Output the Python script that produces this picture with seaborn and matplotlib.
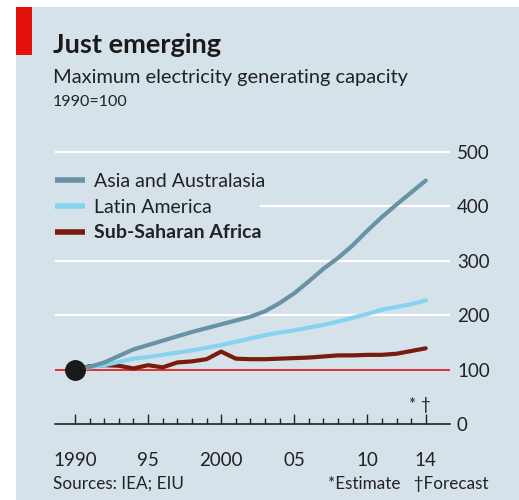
import numpy as np
import pandas as pd
import matplotlib
matplotlib.use('Agg')
import matplotlib.pyplot as plt
import seaborn as sns
from matplotlib.patches import Rectangle

# ---- data (index, 1990=100) ----
years = list(range(1990, 2015))
asia = [100, 105, 113, 125, 137, 145, 153, 161, 169, 176, 183, 190, 197,
        207, 222, 240, 262, 285, 305, 328, 355, 380, 403, 425, 447]
latin = [100, 104, 108, 114, 120, 123, 127, 131, 135, 140, 145, 151, 157,
         163, 168, 172, 177, 182, 188, 195, 202, 210, 215, 220, 227]
africa = [100, 106, 108, 107, 102, 108, 104, 113, 115, 119, 133, 120, 119,
          119, 120, 121, 122, 124, 126, 126, 127, 127, 129, 134, 139]
series_names = ['Asia and Australasia', 'Latin America', 'Sub-Saharan Africa']
series_colors = ['#6a92a5', '#86d2f0', '#7a1b10']

y_ticks = [0, 100, 200, 300, 400, 500]
x_major = [1990, 1995, 2000, 2005, 2010, 2014]
x_major_labels = ['1990', '95', '2000', '05', '10', '14']

df = pd.DataFrame({'year': years, series_names[0]: asia,
                   series_names[1]: latin, series_names[2]: africa})
long_df = df.melt(id_vars='year', var_name='region', value_name='index')

sns.set_style('white')
plt.rcParams['font.family'] = ['Lato', 'DejaVu Sans']

BG = '#d5e2e9'
W, H = 519, 500
fig = plt.figure(figsize=(W / 100, H / 100), dpi=100)
fig.patch.set_facecolor('white')

# background panel and red tag
fig.patches.append(Rectangle((16 / W, 0), 1 - 16 / W, 1 - 7 / H,
                             transform=fig.transFigure, facecolor=BG,
                             edgecolor='none', zorder=-2))
fig.patches.append(Rectangle((16 / W, 1 - 55 / H), 16 / W, 48 / H,
                             transform=fig.transFigure, facecolor='#e3120b',
                             edgecolor='none', zorder=-1))

ax = fig.add_axes([55 / W, 1 - 424 / H, 395 / W, 284 / H])
ax.set_facecolor('none')
ax.set_zorder(1)

# grid lines
for v in [200, 300, 500]:
    ax.axhline(v, color='white', lw=1.6, zorder=1)
ax.plot([2002.7, 2015.66], [400, 400], color='white', lw=1.6, zorder=1)
ax.axhline(100, color='#e3120b', lw=1.2, zorder=2)

sns.lineplot(data=long_df, x='year', y='index', hue='region',
             palette=dict(zip(series_names, series_colors)),
             hue_order=series_names[::-1], linewidth=3.0, ax=ax,
             legend=False, zorder=3)
ax.plot([1990], [100], 'o', color='#1a1a1a', markersize=14, zorder=5)

ax.set_xlim(1988.63, 2015.66)
ax.set_ylim(0, 521.5)
for s in ['top', 'left', 'right']:
    ax.spines[s].set_visible(False)
ax.spines['bottom'].set_color('#222222')
ax.spines['bottom'].set_linewidth(1.2)

ax.set_xticks(x_major)
ax.set_xticklabels(x_major_labels)
ax.set_xticks(years, minor=True)
ax.tick_params(axis='x', which='both', bottom=True)
ax.tick_params(axis='x', which='major', direction='in', length=7, width=1,
               color='#222222', pad=20, labelsize=13.5, labelcolor='#222222')
ax.tick_params(axis='x', which='minor', direction='in', length=4, width=1,
               color='#222222')
ax.yaxis.tick_right()
ax.set_yticks(y_ticks)
ax.tick_params(axis='y', length=0, pad=5, labelsize=13.5, labelcolor='#222222')
ax.set_xlabel('')
ax.set_ylabel('')

ax.text(2013, 20, '*', ha='center', va='bottom', fontsize=12, color='#222222')
ax.text(2014, 20, '\u2020', ha='center', va='bottom', fontsize=12, color='#222222')

# legend
handles = [plt.Line2D([], [], color=c, lw=4, solid_capstyle='butt')
           for c in series_colors]
leg = fig.legend(handles, series_names, loc='upper left',
                 bbox_to_anchor=(55 / W, 1 - 173 / H), frameon=False,
                 fontsize=14, handlelength=1.55, handletextpad=0.45,
                 labelspacing=0.45, borderpad=0, borderaxespad=0)
leg.get_texts()[2].set_fontweight('bold')
for t in leg.get_texts():
    t.set_color('#222222')

# titles
fig.text(53 / W, 1 - 45 / H, 'Just emerging', fontsize=19.5, fontweight='bold',
         va='center', color='#1a1a1a')
fig.text(53 / W, 1 - 77 / H, 'Maximum electricity generating capacity',
         fontsize=14.4, va='center', color='#222222')
fig.text(53 / W, 1 - 102 / H, '1990=100', fontsize=11.5, va='center',
         color='#222222')
fig.text(53 / W, 1 - 484 / H, 'Sources: IEA; EIU', fontsize=12.3, va='center',
         color='#222222')
fig.text(488 / W, 1 - 484 / H, '*Estimate   \u2020Forecast', fontsize=12.3,
         va='center', ha='right', color='#222222')

fig.savefig('out.png', dpi=100)
